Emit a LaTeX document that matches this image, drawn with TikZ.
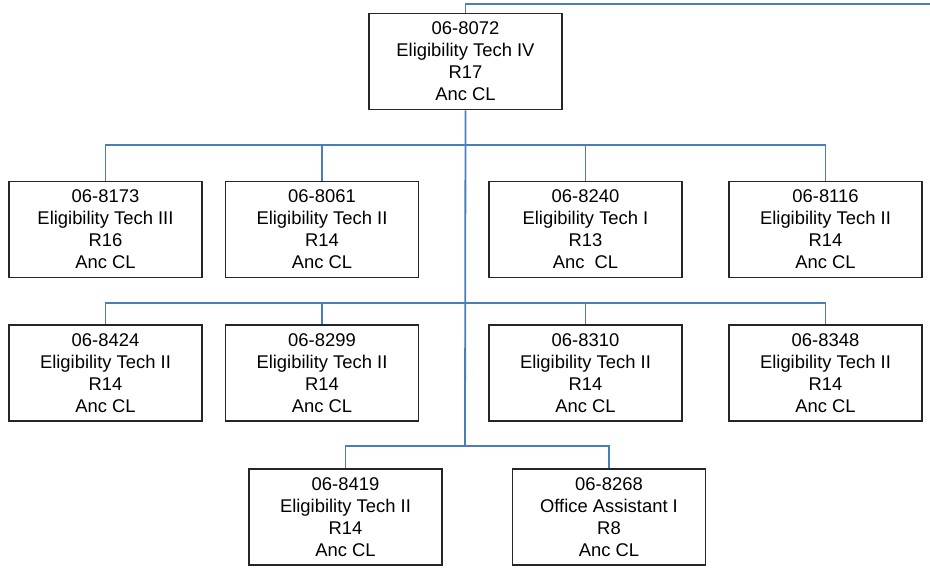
\documentclass[tikz,border=0pt]{standalone}
\usepackage{fontspec}
\setmainfont{Liberation Sans}
\definecolor{linkblue}{HTML}{4A7EBB}
\begin{document}
\begin{tikzpicture}[x=1pt,y=-1pt,
  posbox/.style={draw=black!85,line width=1.6pt,minimum width=193pt,minimum height=96pt,inner sep=0pt,align=center,
    font=\fontsize{18.4}{22}\selectfont},
  link/.style={draw=linkblue,line width=1.8pt}]
\useasboundingbox (0,0) rectangle (930,572);
\node[posbox] (top) at (465.5,61.5) {06-8072\\Eligibility Tech IV\\R17\\Anc CL};
\node[posbox] (a1) at (105.5,229.5) {06-8173\\Eligibility Tech III\\R16\\Anc CL};
\node[posbox] (a2) at (322,229.5) {06-8061\\Eligibility Tech II\\R14\\Anc CL};
\node[posbox] (a3) at (585.5,229.5) {06-8240\\Eligibility Tech I\\R13\\Anc\ \ CL};
\node[posbox] (a4) at (825.5,229.5) {06-8116\\Eligibility Tech II\\R14\\Anc CL};
\node[posbox] (b1) at (105.5,373) {06-8424\\Eligibility Tech II\\R14\\Anc CL};
\node[posbox] (b2) at (322,373) {06-8299\\Eligibility Tech II\\R14\\Anc CL};
\node[posbox] (b3) at (585.5,373) {06-8310\\Eligibility Tech II\\R14\\Anc CL};
\node[posbox] (b4) at (825.5,373) {06-8348\\Eligibility Tech II\\R14\\Anc CL};
\node[posbox] (c1) at (345.5,517) {06-8419\\Eligibility Tech II\\R14\\Anc CL};
\node[posbox] (c2) at (609,517) {06-8268\\Office Assistant I\\R8\\Anc CL};
\coordinate (tr) at (930,4);
\coordinate (j1) at (465,145);
\coordinate (j2) at (465,303);
\coordinate (j3) at (465,446);
% connectors
\draw[link] (top.north) |- (tr);
\draw[link] (top.south) -- (j3);
\draw[link] (a1.north) |- (j1) -| (a4.north);
\draw[link] (a2.north) -- (a2.north |- j1);
\draw[link] (a3.north) -- (a3.north |- j1);
\draw[link] (b1.north) |- (j2) -| (b4.north);
\draw[link] (b2.north) -- (b2.north |- j2);
\draw[link] (b3.north) -- (b3.north |- j2);
\draw[link] (c1.north) |- (j3) -| (c2.north);
\end{tikzpicture}
\end{document}
